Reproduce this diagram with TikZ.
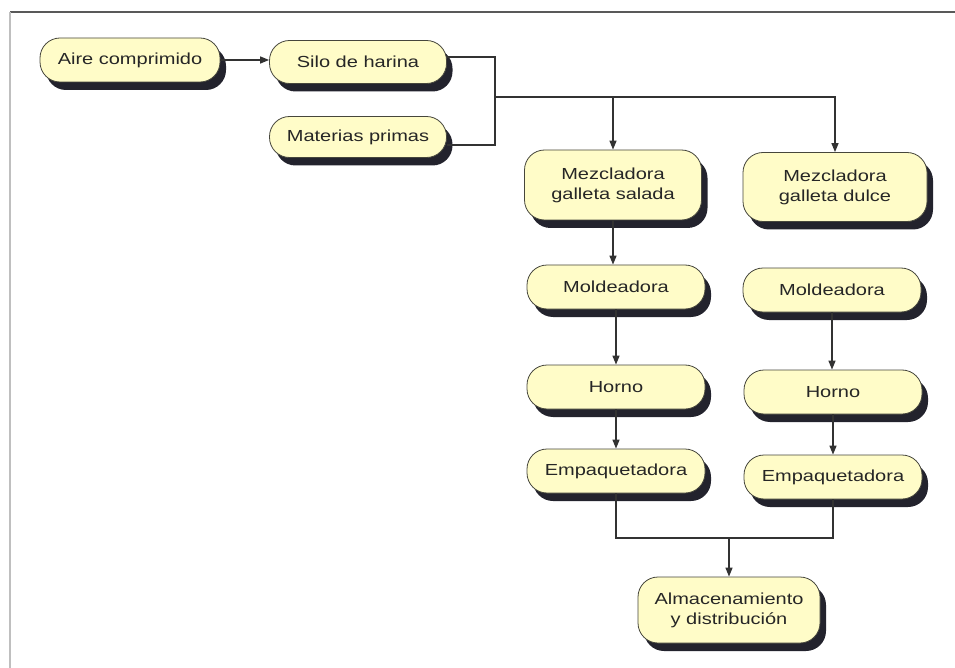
\documentclass[tikz,border=0pt]{standalone}
\usepackage{fontspec}
\setmainfont{Liberation Sans}[FakeStretch=1.25]
\usetikzlibrary{arrows.meta,shadows}
\definecolor{boxfill}{RGB}{255,252,200}
\definecolor{boxline}{RGB}{70,70,60}
\definecolor{shadowc}{RGB}{35,35,45}
\definecolor{edgec}{RGB}{50,50,50}

\begin{document}
\begin{tikzpicture}[x=1pt,y=-1pt]
  \tikzset{BoxStyle/.style={draw=boxline, line width=0.8pt, fill=boxfill,
      rounded corners=20pt, align=center, inner sep=2pt, text=black!85,
      minimum width=178pt, minimum height=44pt,
      font=\fontsize{16}{20}\selectfont,
      drop shadow={shadow xshift=6pt, shadow yshift=-8pt, fill=shadowc, opacity=1}},
    EdgeStyle/.style={edgec, line width=1.4pt},
    ArrowStyle/.style={EdgeStyle, -{Triangle[length=9pt,width=7pt]}}
  }
  \useasboundingbox (0,0) rectangle (955,668);
  % frame
  \draw[black!65, line width=1.2pt] (10,12) -- (955,12);
  \draw[black!25, line width=1.2pt] (10,12) -- (10,668);
  % supply
  \node[BoxStyle, minimum width=180pt] (aire) at (130,60) {Aire comprimido};
  \node[BoxStyle, minimum width=177pt, minimum height=43pt] (silo) at (358,62) {Silo de harina};
  \node[BoxStyle, minimum width=177pt, minimum height=41pt] (mat) at (358,137) {Materias primas};
  % two lines
  \node[BoxStyle, minimum width=177pt, minimum height=70pt] (mezs) at (613,185) {Mezcladora\\galleta salada};
  \node[BoxStyle, minimum width=184pt, minimum height=69pt] (mezd) at (835,187) {Mezcladora\\galleta dulce};
  \node[BoxStyle] (molds) at (616,287) {Moldeadora};
  \node[BoxStyle] (moldd) at (832,290) {Moldeadora};
  \node[BoxStyle] (horns) at (616,387) {Horno};
  \node[BoxStyle] (hornd) at (833,392) {Horno};
  \node[BoxStyle] (emps) at (616,471) {Empaquetadora};
  \node[BoxStyle] (empd) at (833,477) {Empaquetadora};
  \node[BoxStyle, minimum width=182pt, minimum height=66pt] (alm) at (729,610) {Almacenamiento\\y distribución};
  % connectors
  \coordinate (jn) at (495,97);
  \coordinate (jb) at (729,538);
  \draw[ArrowStyle] (aire.east) -- (aire.east -| silo.west);
  \draw[EdgeStyle] ([yshift=5pt]silo.east) -| (jn);
  \draw[EdgeStyle] ([yshift=-8pt]mat.east) -| (jn);
  \draw[ArrowStyle] (jn) -| (mezs.north);
  \draw[ArrowStyle] (jn) -| (mezd.north);
  \foreach \a/\b in {mezs/molds, molds/horns, horns/emps, moldd/hornd, hornd/empd}
    \draw[ArrowStyle] (\a.south) -- (\a.south |- \b.north);
  \draw[EdgeStyle] (emps.south) |- (jb);
  \draw[EdgeStyle] (empd.south) |- (jb);
  \draw[ArrowStyle] (jb) -- (alm.north);
\end{tikzpicture}
\end{document}
